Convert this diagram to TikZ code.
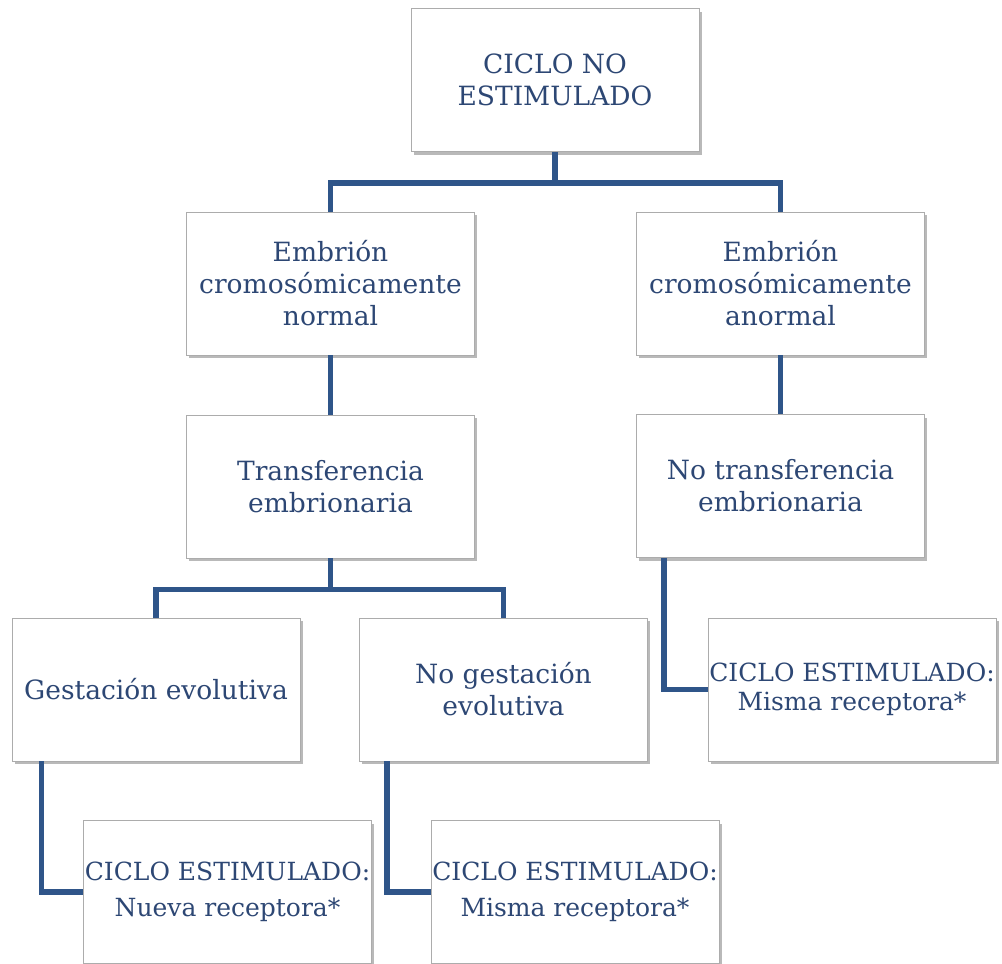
\documentclass[tikz,border=0pt]{standalone}
\usepackage{fontspec}
\setmainfont{DejaVu Serif}
\usetikzlibrary{shadows,calc}
\definecolor{linkblue}{HTML}{2F5589}
\definecolor{textblue}{HTML}{2D4774}
\tikzset{
  box/.style={draw=gray!65, line width=0.7pt, fill=white,
    minimum width=288pt, minimum height=143pt, inner sep=0pt,
    align=center, text=textblue,
    font=\fontsize{26.5}{32}\selectfont,
    drop shadow={shadow xshift=2.5pt, shadow yshift=-3pt, opacity=0.55, fill=gray}},
  link/.style={draw=linkblue, line width=5.5pt, line join=miter}
}
\begin{document}
\begin{tikzpicture}[x=1pt,y=-1pt]
\useasboundingbox[fill=white] (0,0) rectangle (1002,964);
\node[box] (top) at (555,80) {CICLO NO\\ESTIMULADO};
\node[box] (n1) at (330.5,283.5) {Embrión\\cromosómicamente\\normal};
\node[box] (a1) at (780.5,283.5) {Embrión\\cromosómicamente\\anormal};
\node[box] (t1) at (330.5,486.5) {Transferencia\\embrionaria};
\node[box] (t2) at (780.5,486) {No transferencia\\embrionaria};
\node[box] (g1) at (156,689.5) {Gestación evolutiva};
\node[box] (g2) at (503.5,689.5) {No gestación\\evolutiva};
\node[box, font=\fontsize{25}{29}\selectfont] (r1) at (852,689.5) {CICLO ESTIMULADO:\\Misma receptora*};
\node[box, font=\fontsize{25}{36}\selectfont] (b1) at (227.5,892) {CICLO ESTIMULADO:\\Nueva receptora*};
\node[box, font=\fontsize{25}{36}\selectfont] (b2) at (575,892) {CICLO ESTIMULADO:\\Misma receptora*};
\coordinate (s0) at ($(top.south)+(0,31)$);
\draw[link] (top.south) -- (s0);
\draw[link] (n1.north) |- (s0) -| (a1.north);
\draw[link] (n1.south) -- (t1.north);
\draw[link] (a1.south) -- (t2.north);
\coordinate (s1) at ($(t1.south)+(0,31)$);
\draw[link] (t1.south) -- (s1);
\draw[link] (g1.north) |- (s1) -| (g2.north);
\draw[link] ($(t2.south west)+(28,0)$) |- (r1.west);
\draw[link] ($(g1.south west)+(30,0)$) |- (b1.west);
\draw[link] ($(g2.south west)+(28,0)$) |- (b2.west);
\end{tikzpicture}
\end{document}
